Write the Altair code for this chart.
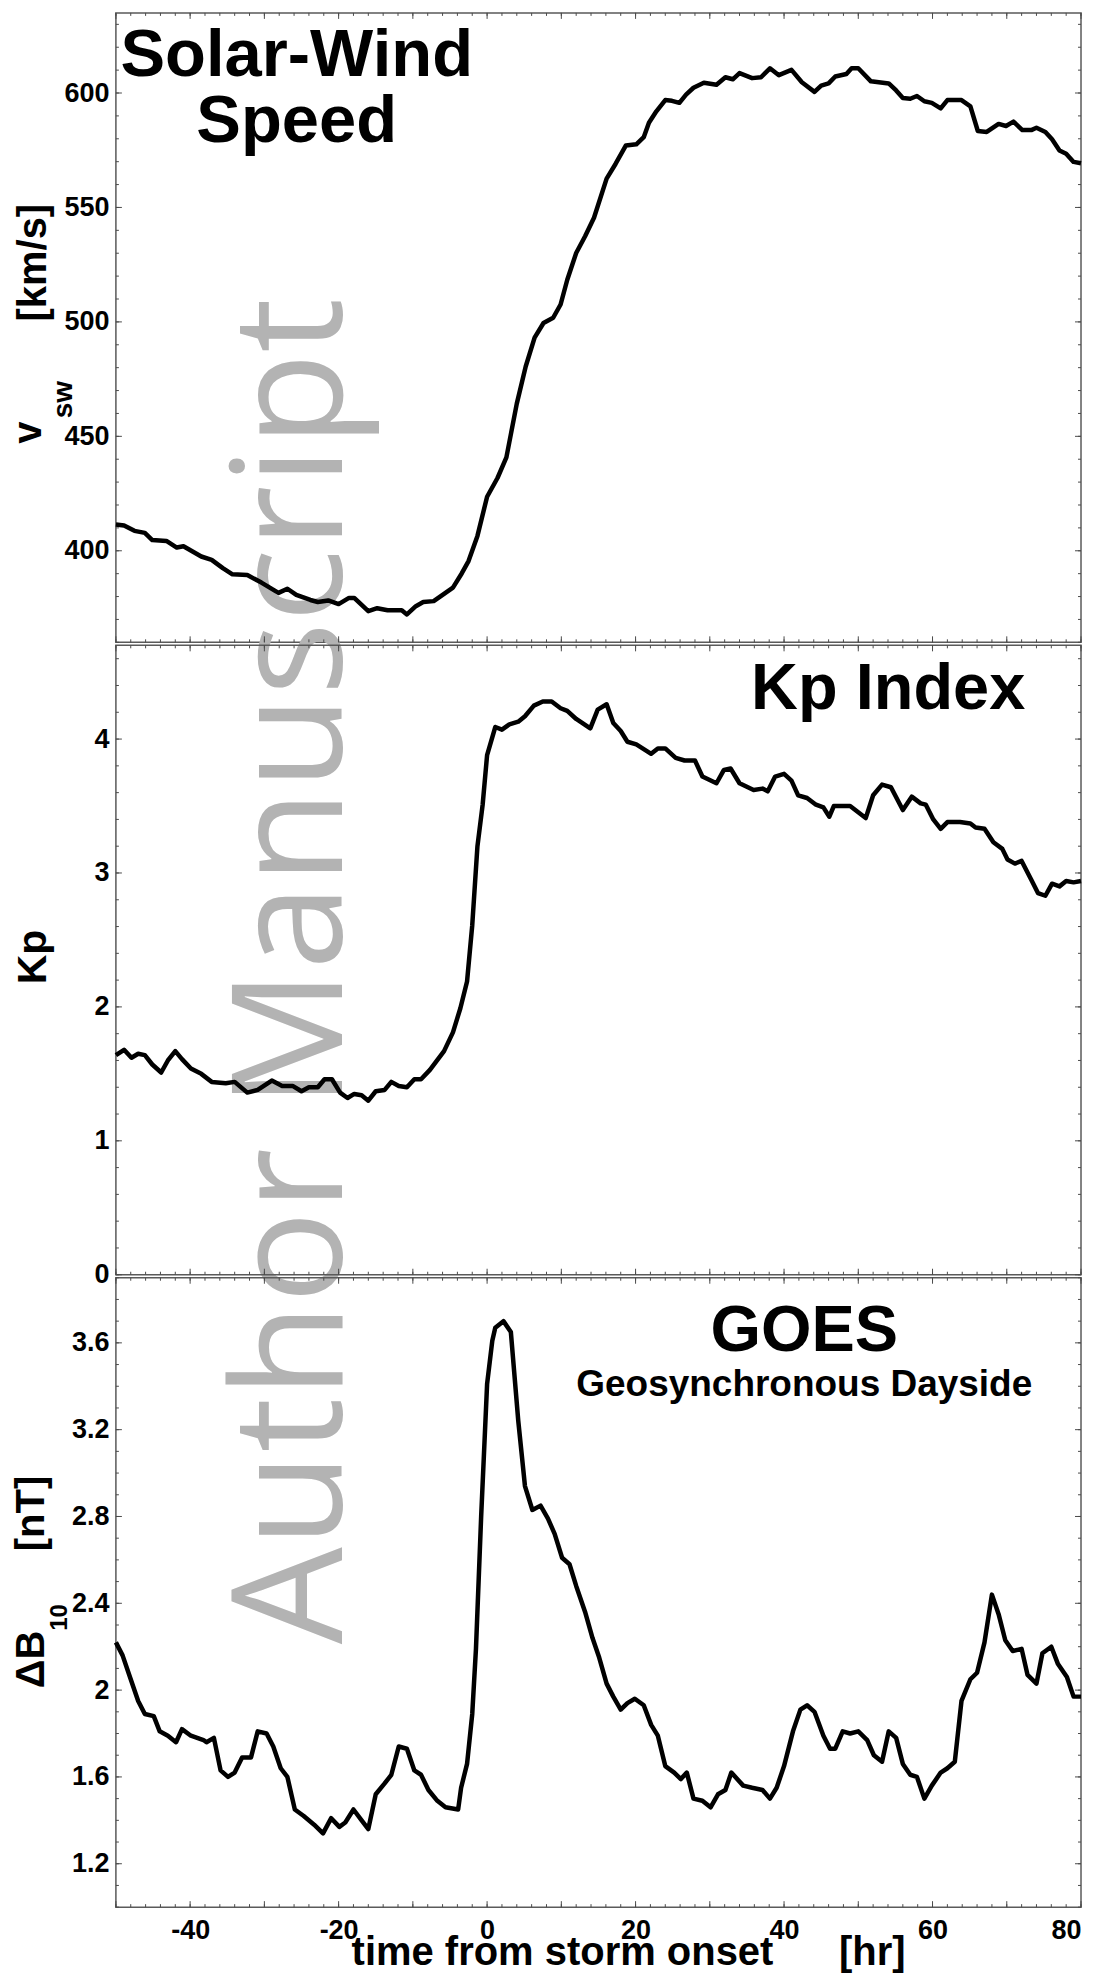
import altair as alt
import pandas as pd

# ---------------- data ----------------
T1 = [-50.0, -48.9, -47.5, -46.1, -45.1, -43.2, -41.8, -40.9, -38.5, -37.1,
      -35.6, -34.3, -32.3, -30.4, -28.1, -26.9, -25.7, -23.8, -22.8, -21.4,
      -20.0, -18.6, -17.9, -16.0, -14.8, -13.4, -11.5, -10.8, -9.6, -8.6,
      -7.2, -5.8, -4.6, -3.4, -2.5, -1.3, 0.0, 1.4, 2.6, 4.0,
      5.2, 6.4, 7.6, 8.9, 9.9, 10.8, 12.0, 13.2, 14.4, 16.1,
      17.3, 18.7, 20.1, 21.1, 21.8, 22.8, 24.0, 24.9, 25.9, 26.8,
      27.8, 29.2, 30.9, 32.1, 33.1, 34.0, 35.7, 36.9, 38.1, 39.3,
      41.0, 42.4, 44.1, 45.0, 46.0, 46.9, 48.4, 49.1, 50.0, 51.7,
      54.1, 55.1, 56.0, 57.0, 57.9, 58.9, 59.9, 61.1, 62.0, 63.9,
      65.1, 66.1, 67.3, 68.9, 69.9, 70.9, 72.1, 73.3, 74.0, 75.2,
      76.1, 77.1, 78.0, 79.0, 80.0]
V1 = [411.5, 411.0, 408.7, 407.8, 404.7, 404.3, 401.4, 402.0, 397.5, 396.0,
      392.4, 389.7, 389.4, 386.1, 381.6, 383.4, 380.7, 378.5, 377.6, 378.3,
      376.7, 379.4, 379.4, 373.6, 374.9, 374.0, 374.0, 372.2, 375.8, 377.6,
      378.0, 381.2, 383.9, 390.2, 395.5, 406.5, 423.6, 431.8, 440.8, 464.3,
      480.5, 493.1, 499.5, 501.8, 507.6, 518.4, 530.1, 537.4, 545.5, 562.6,
      569.0, 577.1, 577.6, 580.7, 587.0, 592.0, 596.9, 596.6, 595.7, 599.3,
      602.3, 604.5, 603.6, 606.9, 606.0, 608.7, 606.5, 606.9, 610.8, 607.8,
      610.1, 604.7, 600.5, 603.2, 604.2, 607.2, 608.3, 610.8, 610.8, 605.1,
      604.2, 601.1, 597.8, 597.5, 598.7, 596.4, 595.7, 593.3, 596.9, 596.9,
      594.2, 583.4, 583.0, 586.5, 585.6, 587.5, 583.8, 583.8, 584.8, 583.0,
      579.8, 574.9, 573.5, 569.9, 569.3]

T2 = [-50.0, -48.9, -47.9, -47.0, -46.1, -45.1, -43.9, -43.0, -42.0, -41.1,
      -39.9, -38.5, -37.1, -35.2, -34.0, -32.3, -30.9, -29.0, -27.6, -26.2,
      -25.0, -24.0, -22.8, -21.9, -20.9, -19.8, -18.8, -17.9, -16.9, -16.0,
      -15.0, -13.8, -12.9, -11.9, -10.8, -9.8, -8.9, -7.7, -5.8, -4.6,
      -3.6, -2.7, -2.0, -1.3, -0.6, 0.0, 1.1, 2.0, 3.0, 4.2,
      5.1, 6.3, 7.5, 8.7, 9.9, 10.8, 12.0, 13.9, 14.9, 16.1,
      17.0, 18.0, 18.9, 20.1, 22.1, 23.0, 24.0, 25.4, 26.6, 28.0,
      29.0, 30.9, 31.9, 32.8, 34.0, 35.9, 37.1, 37.8, 38.8, 40.0,
      41.0, 41.9, 43.1, 44.3, 45.3, 46.1, 46.7, 48.9, 51.0, 52.0,
      53.2, 54.4, 56.0, 57.2, 58.4, 59.1, 60.1, 61.1, 62.0, 63.7,
      65.1, 65.8, 67.0, 68.2, 69.4, 70.1, 71.1, 72.0, 73.3, 74.2,
      75.2, 76.1, 77.1, 78.0, 79.0, 80.0]
K2 = [1.64, 1.68, 1.62, 1.65, 1.64, 1.57, 1.51, 1.60, 1.67, 1.61,
      1.54, 1.50, 1.44, 1.43, 1.44, 1.36, 1.38, 1.45, 1.41, 1.41,
      1.37, 1.40, 1.40, 1.46, 1.46, 1.36, 1.32, 1.35, 1.34, 1.30,
      1.37, 1.38, 1.44, 1.41, 1.40, 1.46, 1.46, 1.53, 1.67, 1.81,
      1.99, 2.19, 2.61, 3.20, 3.51, 3.88, 4.09, 4.07, 4.11, 4.13,
      4.17, 4.25, 4.28, 4.28, 4.23, 4.21, 4.15, 4.08, 4.22, 4.26,
      4.12, 4.06, 3.98, 3.96, 3.89, 3.93, 3.93, 3.86, 3.84, 3.84,
      3.72, 3.67, 3.77, 3.78, 3.67, 3.62, 3.63, 3.61, 3.72, 3.74,
      3.69, 3.58, 3.56, 3.51, 3.49, 3.42, 3.50, 3.50, 3.41, 3.58,
      3.66, 3.64, 3.47, 3.57, 3.52, 3.51, 3.40, 3.33, 3.38, 3.38,
      3.37, 3.34, 3.33, 3.23, 3.18, 3.10, 3.07, 3.09, 2.95, 2.85,
      2.83, 2.92, 2.90, 2.94, 2.93, 2.94]

T3 = [-50.0, -49.1, -48.2, -47.0, -46.1, -44.9, -44.1, -43.0, -41.9, -41.1,
      -39.9, -38.2, -37.8, -36.8, -35.9, -34.9, -34.0, -33.0, -31.8, -30.9,
      -29.7, -28.8, -27.8, -26.9, -25.9, -24.7, -23.3, -22.1, -21.0, -19.9,
      -19.1, -18.0, -16.9, -16.0, -15.0, -13.8, -12.9, -11.9, -10.8, -9.8,
      -8.9, -7.9, -6.7, -5.6, -3.9, -3.5, -2.7, -2.0, -1.5, -0.8,
      0.0, 0.7, 1.1, 2.2, 3.2, 4.2, 5.1, 6.1, 7.2, 8.2,
      9.1, 10.1, 11.1, 12.0, 13.2, 14.2, 15.1, 16.1, 17.0, 18.0,
      18.9, 19.9, 21.1, 22.1, 23.0, 24.0, 25.2, 26.1, 26.9, 27.8,
      29.0, 30.1, 31.1, 32.1, 32.9, 34.5, 35.7, 37.1, 38.1, 39.0,
      40.0, 41.2, 42.2, 43.1, 44.1, 45.3, 46.2, 46.9, 47.9, 48.9,
      50.0, 51.2, 52.1, 53.2, 54.1, 55.1, 56.0, 57.0, 57.9, 58.9,
      59.9, 61.1, 62.0, 63.0, 63.9, 65.1, 66.0, 67.0, 68.0, 68.9,
      69.8, 70.8, 72.0, 72.8, 74.0, 74.8, 76.0, 76.9, 78.1, 79.0,
      80.0]
B3 = [2.22, 2.16, 2.07, 1.95, 1.89, 1.88, 1.81, 1.79, 1.76, 1.82,
      1.79, 1.77, 1.76, 1.78, 1.63, 1.60, 1.62, 1.69, 1.69, 1.81,
      1.80, 1.74, 1.64, 1.60, 1.45, 1.42, 1.38, 1.34, 1.41, 1.37,
      1.39, 1.45, 1.40, 1.36, 1.52, 1.57, 1.61, 1.74, 1.73, 1.63,
      1.61, 1.54, 1.49, 1.46, 1.45, 1.55, 1.66, 1.89, 2.19, 2.80,
      3.41, 3.61, 3.67, 3.70, 3.65, 3.24, 2.94, 2.83, 2.85, 2.79,
      2.72, 2.61, 2.58, 2.48, 2.36, 2.24, 2.15, 2.03, 1.97, 1.91,
      1.94, 1.96, 1.93, 1.84, 1.79, 1.65, 1.62, 1.59, 1.62, 1.50,
      1.49, 1.46, 1.52, 1.54, 1.62, 1.56, 1.55, 1.54, 1.50, 1.55,
      1.65, 1.81, 1.91, 1.93, 1.90, 1.79, 1.73, 1.73, 1.81, 1.80,
      1.81, 1.77, 1.70, 1.67, 1.81, 1.78, 1.66, 1.61, 1.60, 1.50,
      1.56, 1.62, 1.64, 1.67, 1.95, 2.05, 2.08, 2.22, 2.44, 2.35,
      2.23, 2.18, 2.19, 2.07, 2.03, 2.17, 2.20, 2.12, 2.06, 1.97,
      1.97]

# tick values / labels
X_LABELS = [-40, -20, 0, 20, 40, 60, 80]
X_MAJOR = [-50, -40, -30, -20, -10, 0, 10, 20, 30, 40, 50, 60, 70, 80]
X_MINOR = [-50 + 2 * i for i in range(66)]
Y1_LABELS = [400, 450, 500, 550, 600]
Y1_MINOR = [360 + 10 * i for i in range(28)]
Y2_LABELS = [0, 1, 2, 3, 4]
Y2_MINOR = [round(0.2 * i, 1) for i in range(24)]
Y3_LABELS = [1.2, 1.6, 2.0, 2.4, 2.8, 3.2, 3.6]
Y3_MINOR = [round(1.0 + 0.1 * i, 1) for i in range(30)]

# ---------------- styling ----------------
W = 966
H = 630
FONT = "Liberation Sans"
FRAME = "#5a5a5a"
TICK = "#4a4a4a"

xs = alt.Scale(domain=[-50, 80], nice=False, zero=False)
ys1 = alt.Scale(domain=[360, 635], nice=False, zero=False)
ys2 = alt.Scale(domain=[0, 4.7], nice=False, zero=False)
ys3 = alt.Scale(domain=[1.0, 3.9], nice=False, zero=False)

one = pd.DataFrame({"k": [0]})


def yaxis(vals):
    return alt.Axis(values=vals, title=None, ticks=False, domain=False,
                    grid=False, labelFont=FONT, labelFontWeight="bold",
                    labelFontSize=27, labelColor="black", labelPadding=7,
                    labelExpr="'' + datum.value")


XAXIS_BOTTOM = alt.Axis(
    values=X_LABELS, title=None, ticks=False, domain=False, grid=False,
    labelFont=FONT, labelFontWeight="bold", labelFontSize=27,
    labelColor="black", labelPadding=10,
    labelExpr="datum.value < 0 ? '-' + abs(datum.value) : '' + datum.value")


def label(text, x, y, size, angle=0, align="center", weight="bold",
          font=FONT, color="black"):
    return alt.Chart(one).mark_text(
        text=text, fontSize=size, font=font, fontWeight=weight, angle=angle,
        align=align, baseline="alphabetic", color=color
    ).encode(x=alt.value(x), y=alt.value(y))


def ticks_x(vals, length, xaxis):
    d = pd.DataFrame({"t": vals})
    b = alt.Chart(d).mark_rule(color=TICK, strokeWidth=1)
    enc = alt.X("t:Q", scale=xs, axis=xaxis)
    return [b.encode(x=enc, y=alt.value(0), y2=alt.value(length)),
            b.encode(x=enc, y=alt.value(H), y2=alt.value(H - length))]


def ticks_y(vals, length, ys, yax):
    d = pd.DataFrame({"v": vals})
    b = alt.Chart(d).mark_rule(color=TICK, strokeWidth=1)
    enc = alt.Y("v:Q", scale=ys, axis=yax)
    return [b.encode(y=enc, x=alt.value(0), x2=alt.value(length)),
            b.encode(y=enc, x=alt.value(W), x2=alt.value(W - length))]


def series(T, V, ys, yax, xaxis):
    d = pd.DataFrame({"t": T, "v": V})
    return alt.Chart(d).mark_line(
        color="black", strokeWidth=4.5, strokeJoin="round"
    ).encode(x=alt.X("t:Q", scale=xs, axis=xaxis),
             y=alt.Y("v:Q", scale=ys, axis=yax))


def all_ticks(ymajor, yminor, ys, yax, xaxis):
    return (ticks_x(X_MINOR, 3, xaxis) + ticks_x(X_MAJOR, 6, xaxis)
            + ticks_y(yminor, 3, ys, yax) + ticks_y(ymajor, 6, ys, yax))


# ---------------- panel 1: solar wind speed ----------------
ya1 = yaxis(Y1_LABELS)
watermark = label("Author Manuscript", 226.5, 959, 154, angle=270,
                  weight="normal", font="Open Sans", color="#b3b3b3")
anchor = alt.Chart(one).mark_rule(strokeOpacity=0, strokeWidth=1).encode(
    x=alt.value(-107), y=alt.value(-3), y2=alt.value(0))

p1 = alt.layer(
    watermark, anchor,
    *all_ticks(Y1_LABELS, Y1_MINOR, ys1, ya1, None),
    series(T1, V1, ys1, ya1, None),
    label("Solar-Wind", 181, 63, 67),
    label("Speed", 181, 129, 67),
    label("v", -75, 420, 40, angle=270),
    label("sw", -44, 387, 28, angle=270),
    label("[km/s]", -70, 250, 40, angle=270),
).properties(width=W, height=H)

# ---------------- panel 2: Kp ----------------
ya2 = yaxis(Y2_LABELS)
p2 = alt.layer(
    *all_ticks(Y2_LABELS, Y2_MINOR, ys2, ya2, None),
    series(T2, K2, ys2, ya2, None),
    label("Kp Index", 773, 64, 65),
    label("Kp", -70, 312, 41, angle=270),
).properties(width=W, height=H)

# ---------------- panel 3: GOES ----------------
ya3 = yaxis(Y3_LABELS)
p3 = alt.layer(
    *all_ticks(Y3_LABELS, Y3_MINOR, ys3, ya3, XAXIS_BOTTOM),
    series(T3, B3, ys3, ya3, XAXIS_BOTTOM),
    label("GOES", 689, 73, 65),
    label("Geosynchronous Dayside", 689, 118, 37),
    label("\u0394B", -72, 382, 40, angle=270),
    label("10", -49, 340, 24, angle=270),
    label("[nT]", -72, 236, 40, angle=270),
    label("time from storm onset", 447, 688, 40),
    label("[hr]", 757, 688, 40),
).properties(width=W, height=H)

chart = alt.vconcat(p1, p2, p3, spacing=3, bounds="flush").properties(
    padding={"left": 0, "top": 0, "right": 5, "bottom": 0},
    background="white",
).configure_view(stroke=FRAME, strokeWidth=1.5)

chart.save("out.html", embed_options={"renderer": "svg", "actions": False})
